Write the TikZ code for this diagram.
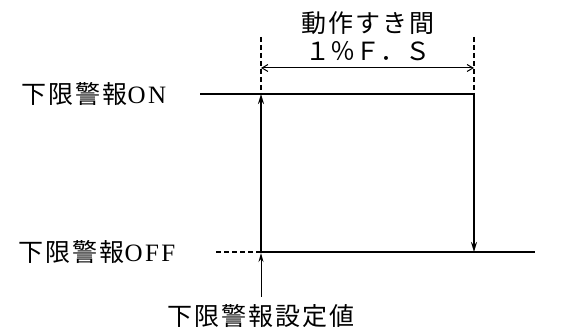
\documentclass[tikz,border=0pt]{standalone}
\usepackage{fontspec}
\setmainfont{Liberation Serif}
\newfontfamily\jps[LetterSpace=8]{Noto Sans CJK JP}
\newfontfamily\jpn{Noto Sans CJK JP}
\newfontfamily\sers[LetterSpace=10]{Liberation Serif}
\usetikzlibrary{arrows.meta}
\begin{document}
\begin{tikzpicture}[x=1pt,y=-1pt,
  thickline/.style={line width=1.9pt},
  thinline/.style={line width=1pt},
  dashline/.style={line width=1.1pt, dash pattern=on 5pt off 3pt},
  solidhead/.style={-{Stealth[length=10pt,width=6pt]}},
  barbs/.style={{Straight Barb[length=6pt,width=7pt]}-{Straight Barb[length=6pt,width=7pt]}},
  lbl/.style={inner sep=0pt, font=\fontsize{25}{25}\selectfont}
]
\useasboundingbox (0,0) rectangle (571,331);
% coordinates
\coordinate (onL) at (200,94);
\coordinate (onA) at (261,94);
\coordinate (onR) at (474,94);
\coordinate (offD) at (216,252);
\coordinate (offA) at (261,252);
\coordinate (offR) at (474,252);
\coordinate (offE) at (535,252);
\coordinate (topA) at (261,37);
\coordinate (topR) at (474,37);
\coordinate (dimA) at (261,68);
\coordinate (dimR) at (474,68);
\coordinate (setB) at (261,297);
% labels
\node[lbl] (lon) at (94,94) {\jps 下限警報\sers ON};
\node[lbl] (loff) at (97,252) {\jps 下限警報\sers OFF};
\node[lbl] (lset) at (261,316) {\jps 下限警報設定値};
\node[lbl] (lgap) at (367.5,23) {\jps 動作すき間};
\node[lbl, font=\fontsize{25}{25}\selectfont] (lfs) at (367.5,51) {\jpn １％Ｆ．Ｓ};
% lines
\draw[thickline] (onL) -- (onR);
\draw[dashline] (offD) -- (offA);
\draw[thickline] (offA) -- (offE);
\draw[dashline] (topA) -- (onA);
\draw[dashline] (topR) -- (onR);
\draw[thickline, solidhead] (offA) -- (onA);
\draw[thickline, solidhead] (onR) -- (offR);
\draw[thinline, barbs] (dimA) -- (dimR);
\draw[thinline, -{Stealth[length=9pt,width=5pt]}] (setB) -- ([yshift=-1pt]offA);
\end{tikzpicture}
\end{document}
